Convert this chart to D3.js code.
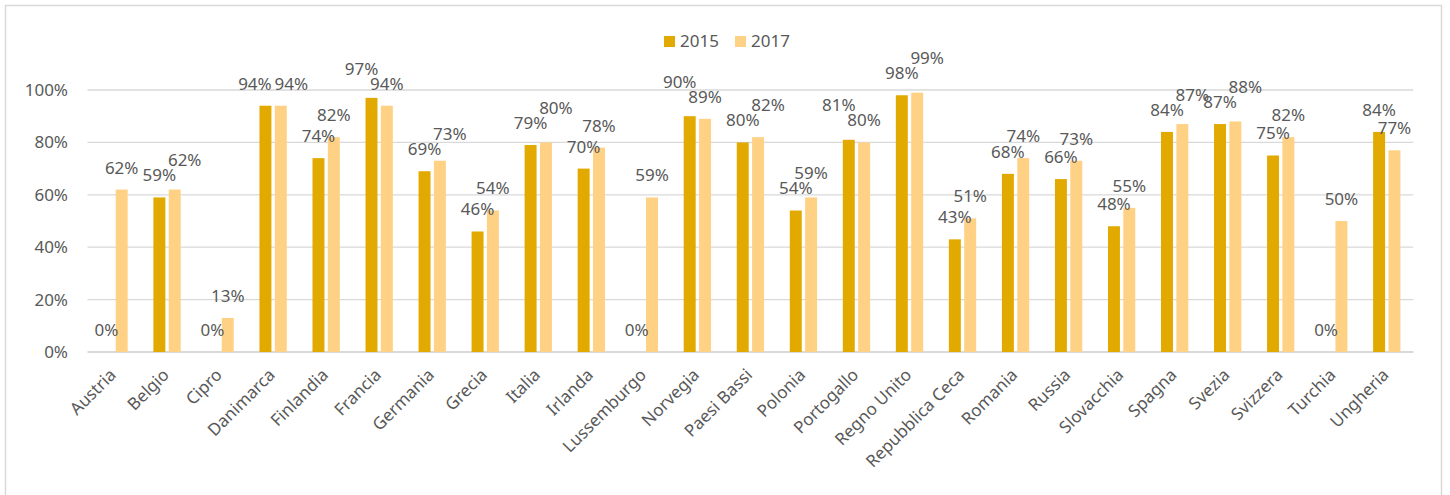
<!DOCTYPE html>
<html>
<head>
<meta charset="utf-8">
<script src="https://cdn.jsdelivr.net/npm/d3@7"></script>
<style>
  html, body { margin: 0; padding: 0; background: #fff; }
  svg text { font-family: "Noto Sans", "Open Sans", sans-serif; fill: #595959; }
</style>
</head>
<body>
<svg id="chart" width="1450" height="495"></svg>
<script>
// dati
var paesi = ['Austria', 'Belgio', 'Cipro', 'Danimarca', 'Finlandia', 'Francia', 'Germania', 'Grecia',
  'Italia', 'Irlanda', 'Lussemburgo', 'Norvegia', 'Paesi Bassi', 'Polonia', 'Portogallo', 'Regno Unito',
  'Repubblica Ceca', 'Romania', 'Russia', 'Slovacchia', 'Spagna', 'Svezia', 'Svizzera', 'Turchia', 'Ungheria']
var anni = ['2015', '2017']
var valori2015 = [0, 0.59, 0, 0.94, 0.74, 0.97, 0.69, 0.46, 0.79, 0.70, 0, 0.90, 0.80, 0.54, 0.81, 0.98,
  0.43, 0.68, 0.66, 0.48, 0.84, 0.87, 0.75, 0, 0.84]
var valori2017 = [0.62, 0.62, 0.13, 0.94, 0.82, 0.94, 0.73, 0.54, 0.80, 0.78, 0.59, 0.89, 0.82, 0.59, 0.80, 0.99,
  0.51, 0.74, 0.73, 0.55, 0.87, 0.88, 0.82, 0.50, 0.77]
var yTicks = [0, 0.2, 0.4, 0.6, 0.8, 1]

var colori = { '2015': '#E2AA00', '2017': '#FFD185' }
var serie = { '2015': valori2015, '2017': valori2017 }

var svg = d3.select('#chart')
var fontSize = 17

// cornice esterna
svg.append('rect')
  .attr('x', 5.5).attr('y', 5.5)
  .attr('width', 1436).attr('height', 510)
  .attr('fill', 'none')
  .attr('stroke', '#d9d9d9')
  .attr('stroke-width', 1.5)

var x0 = d3.scaleBand()
  .domain(paesi)
  .range([87.5, 1413.3])
  .paddingInner(0.485)
  .paddingOuter(0.2425)

var x1 = d3.scaleBand()
  .domain(anni)
  .range([0, x0.bandwidth()])
  .paddingInner(0.22)

var y = d3.scaleLinear().domain([0, 1]).range([352, 90])

// griglia
svg.append('g')
  .selectAll('line')
  .data(yTicks)
  .enter()
  .append('line')
  .attr('x1', 87.5).attr('x2', 1413.3)
  .attr('y1', function(d) { return y(d) }).attr('y2', function(d) { return y(d) })
  .attr('stroke', '#d9d9d9')
  .attr('stroke-width', function(d) { return d === 0 ? 1.8 : 1.3 })

// etichette asse y
svg.append('g')
  .selectAll('text')
  .data(yTicks)
  .enter()
  .append('text')
  .attr('x', 68)
  .attr('y', function(d) { return y(d) })
  .attr('dy', '0.35em')
  .attr('text-anchor', 'end')
  .style('font-size', fontSize + 'px')
  .text(d3.format('.0%'))

// barre
var gruppi = svg.append('g')
  .selectAll('g')
  .data(paesi)
  .enter()
  .append('g')
  .attr('transform', function(d) { return 'translate(' + x0(d) + ',0)' })

gruppi.selectAll('rect')
  .data(function(d, i) {
    return anni.map(function(a) { return { anno: a, v: serie[a][i] } })
  })
  .enter()
  .append('rect')
  .attr('x', function(d) { return x1(d.anno) })
  .attr('width', x1.bandwidth())
  .attr('y', function(d) { return y(d.v) })
  .attr('height', function(d) { return y(0) - y(d.v) })
  .attr('fill', function(d) { return colori[d.anno] })

// etichette dati, spostate un po' quando si sovrappongono
var sep = 15
var etichette = []
paesi.forEach(function(p, i) {
  var coppia = anni.map(function(a) {
    return {
      testo: d3.format('.0%')(serie[a][i]),
      cx: x0(p) + x1(a) + x1.bandwidth() / 2,
      cy: y(serie[a][i]) - 22
    }
  })
  var a = coppia[0], b = coppia[1]
  var dy = a.cy - b.cy
  var ady = Math.abs(dy)
  if (ady < sep) {
    var dx = ady < 12 ? 10 : 0
    if (ady < 0.5) {
      a.cx -= 10.5
      b.cx += 10.5
    } else if (dy > 0) {
      b.cx += dx
      b.cy = a.cy - sep
    } else {
      a.cx -= dx
      a.cy = b.cy - sep
    }
  }
  etichette.push(a, b)
})

svg.append('g')
  .selectAll('text')
  .data(etichette)
  .enter()
  .append('text')
  .attr('x', function(d) { return d.cx })
  .attr('y', function(d) { return d.cy })
  .attr('dy', '0.35em')
  .attr('text-anchor', 'middle')
  .style('font-size', fontSize + 'px')
  .text(function(d) { return d.testo })

// etichette asse x ruotate
svg.append('g')
  .selectAll('text')
  .data(paesi)
  .enter()
  .append('text')
  .attr('transform', function(d) {
    return 'translate(' + (x0(d) + x0.bandwidth() / 2 + 3) + ',376) rotate(-45)'
  })
  .attr('text-anchor', 'end')
  .style('font-size', fontSize + 'px')
  .text(function(d) { return d })

// legenda
var legenda = svg.append('g')
  .selectAll('g')
  .data(anni)
  .enter()
  .append('g')
  .attr('transform', function(d, i) { return 'translate(' + (664 + i * 71) + ',36)' })

legenda.append('rect')
  .attr('width', 11).attr('height', 11)
  .attr('fill', function(d) { return colori[d] })

legenda.append('text')
  .attr('x', 16)
  .attr('y', 5.5)
  .attr('dy', '0.35em')
  .style('font-size', fontSize + 'px')
  .text(function(d) { return d })
</script>
</body>
</html>
